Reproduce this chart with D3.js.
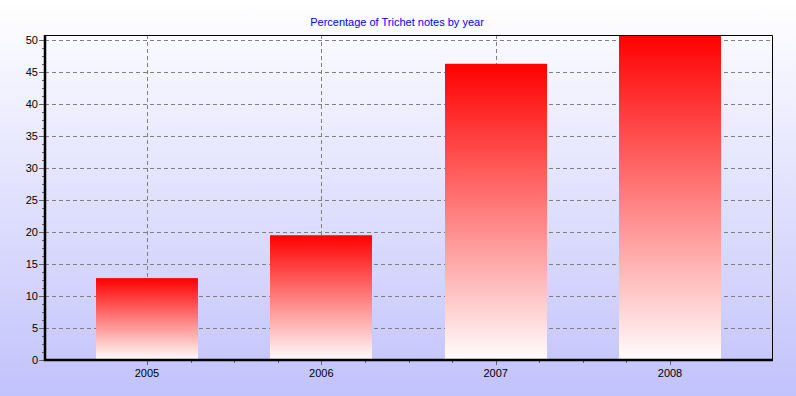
<!DOCTYPE html>
<html>
<head>
<meta charset="utf-8">
<script src="https://cdn.jsdelivr.net/npm/d3@7"></script>
<style>
  html, body { margin: 0; padding: 0; }
  svg { display: block; }
  text { font-family: "Liberation Sans", Arial, sans-serif; }
</style>
</head>
<body>
<svg id="chart" width="796" height="396"></svg>
<script>
// data
let years = ["2005", "2006", "2007", "2008"];
let percents = [12.8, 19.5, 46.3, 50.8];
let yTicks = [0, 5, 10, 15, 20, 25, 30, 35, 40, 45, 50];

let title = "Percentage of Trichet notes by year";

let width = 796,
  height = 396,
  margin = { top: 35, right: 24, bottom: 36, left: 45 };

let svg = d3.select("#chart");
let defs = svg.append("defs");

// page background: white -> light blue
let bg = defs.append("linearGradient")
  .attr("id", "bg")
  .attr("x1", 0).attr("y1", 0).attr("x2", 0).attr("y2", 1);
bg.append("stop").attr("offset", "0%").attr("stop-color", "#ffffff");
bg.append("stop").attr("offset", "100%").attr("stop-color", "#c2c2fc");

// bar fill: red at the top, white at the bottom
let barGrad = defs.append("linearGradient")
  .attr("id", "bar")
  .attr("x1", 0).attr("y1", 0).attr("x2", 0).attr("y2", 1);
barGrad.append("stop").attr("offset", "0%").attr("stop-color", "#ff0000");
barGrad.append("stop").attr("offset", "100%").attr("stop-color", "#fffcfc");

defs.append("clipPath").attr("id", "plotclip")
  .append("rect")
  .attr("x", margin.left)
  .attr("y", margin.top)
  .attr("width", width - margin.left - margin.right)
  .attr("height", height - margin.top - margin.bottom);

svg.append("rect")
  .attr("width", width)
  .attr("height", height)
  .attr("fill", "url(#bg)");

let x = d3.scalePoint()
  .domain(years)
  .range([margin.left, width - margin.right])
  .padding(0.585);

let y = d3.scaleLinear()
  .domain([0, 50.8])
  .range([height - margin.bottom, margin.top]);

let barWidth = x.step() * 0.585;

// title
svg.append("text")
  .attr("x", 397)
  .attr("y", 26)
  .attr("text-anchor", "middle")
  .attr("font-size", 11)
  .attr("fill", "#0000ff")
  .text(title);

// grid
let grid = svg.append("g")
  .attr("stroke", "#808080")
  .attr("stroke-dasharray", "4,3")
  .attr("stroke-width", 1);

grid.selectAll(".hgrid")
  .data(yTicks.filter((d) => d > 0))
  .enter()
  .append("line")
  .attr("x1", margin.left)
  .attr("x2", width - margin.right)
  .attr("y1", (d) => Math.round(y(d)) + 0.5)
  .attr("y2", (d) => Math.round(y(d)) + 0.5);

grid.selectAll(".vgrid")
  .data(years)
  .enter()
  .append("line")
  .attr("x1", (d) => Math.round(x(d)) + 0.5)
  .attr("x2", (d) => Math.round(x(d)) + 0.5)
  .attr("y1", margin.top)
  .attr("y2", height - margin.bottom);

// bars
svg.append("g")
  .attr("clip-path", "url(#plotclip)")
  .selectAll(".bar")
  .data(years)
  .enter()
  .append("rect")
  .attr("class", "bar")
  .attr("x", (d) => Math.round(x(d) - barWidth / 2))
  .attr("width", Math.round(barWidth))
  .attr("y", (d, i) => y(percents[i]))
  .attr("height", (d, i) => y(0) - y(percents[i]))
  .attr("fill", "url(#bar)");

// frame: thin top and right
svg.append("path")
  .attr("d", `M${margin.left},${margin.top + 0.5}H${width - margin.right + 0.5}V${height - margin.bottom}`)
  .attr("fill", "none")
  .attr("stroke", "#000")
  .attr("stroke-width", 1);

// y axis
let yAxis = svg.append("g")
  .attr("transform", `translate(${margin.left},0)`);

// minor ticks on y
let yMinor = d3.range(0, 50.8, 1.25);
yAxis.selectAll(".yminor")
  .data(yMinor)
  .enter()
  .append("line")
  .attr("x1", -3)
  .attr("x2", 0)
  .attr("y1", (d) => Math.round(y(d)) + 0.5)
  .attr("y2", (d) => Math.round(y(d)) + 0.5)
  .attr("stroke", "#666");

yAxis.selectAll(".ymajor")
  .data(yTicks)
  .enter()
  .append("line")
  .attr("x1", -6)
  .attr("x2", 0)
  .attr("y1", (d) => Math.round(y(d)) + 0.5)
  .attr("y2", (d) => Math.round(y(d)) + 0.5)
  .attr("stroke", "#666");

yAxis.selectAll(".ylabel")
  .data(yTicks)
  .enter()
  .append("text")
  .attr("x", -7)
  .attr("y", (d) => y(d))
  .attr("dy", "0.35em")
  .attr("text-anchor", "end")
  .attr("font-size", 11)
  .attr("fill", "#000")
  .text((d) => d);

// x axis
let xAxis = svg.append("g")
  .attr("transform", `translate(0,${height - margin.bottom})`);

// minor ticks only between the first and last year
let xMinor = [];
for (let i = 1; i < (years.length - 1) * 4; i++) {
  if (i % 4 !== 0) xMinor.push(x(years[0]) + (i * x.step()) / 4);
}

xAxis.selectAll(".xminor")
  .data(xMinor)
  .enter()
  .append("line")
  .attr("x1", (d) => Math.round(d) + 0.5)
  .attr("x2", (d) => Math.round(d) + 0.5)
  .attr("y1", 0)
  .attr("y2", 3)
  .attr("stroke", "#666");

xAxis.selectAll(".xmajor")
  .data(years)
  .enter()
  .append("line")
  .attr("x1", (d) => Math.round(x(d)) + 0.5)
  .attr("x2", (d) => Math.round(x(d)) + 0.5)
  .attr("y1", 0)
  .attr("y2", 5)
  .attr("stroke", "#666");

xAxis.selectAll(".xlabel")
  .data(years)
  .enter()
  .append("text")
  .attr("x", (d) => x(d))
  .attr("y", 17)
  .attr("text-anchor", "middle")
  .attr("font-size", 11)
  .attr("fill", "#000")
  .text((d) => d);

// thick left and bottom axis lines
svg.append("path")
  .attr("d", `M${margin.left},${margin.top}V${height - margin.bottom}H${width - margin.right + 1}`)
  .attr("fill", "none")
  .attr("stroke", "#000")
  .attr("stroke-width", 2.5);
</script>
</body>
</html>
